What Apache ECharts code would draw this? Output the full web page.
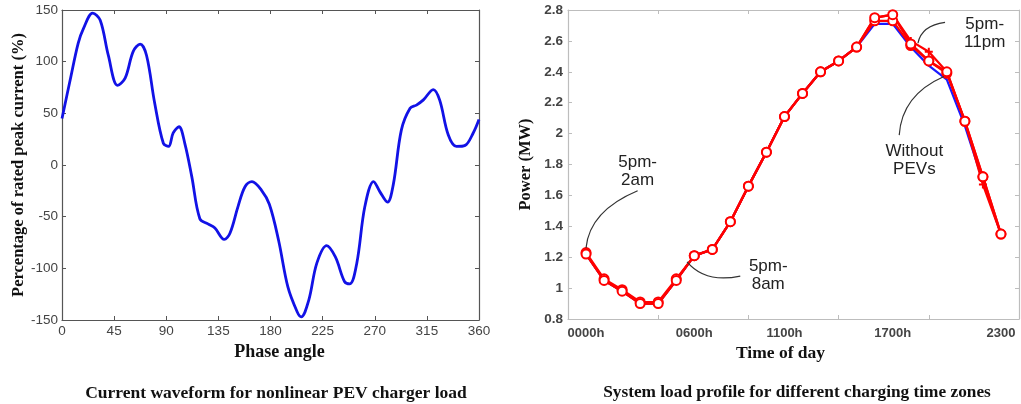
<!DOCTYPE html>
<html><head><meta charset="utf-8">
<script src="https://cdn.jsdelivr.net/npm/echarts@6/dist/echarts.min.js"></script>
<style>html,body{margin:0;padding:0;background:#fff}#c{width:1021px;height:404px}</style>
</head><body><div id="c"></div>
<script>
// ---- Left chart: current waveform ----
const phaseDeg = [0, 7, 14, 18.5, 26.5, 33, 40, 48, 54.5, 61.5, 67.5, 73, 80, 87.5, 92, 96, 101, 106, 112, 119, 126, 132, 140, 145, 152, 158, 164, 172, 179, 187, 195, 203, 206.5, 213, 220, 228.5, 236, 244, 248.5, 254.5, 261.5, 269, 274.5, 281, 286, 293, 300.5, 306, 312, 320.5, 326, 333.5, 340.5, 348, 355, 360];
const currentPct = [45, 82, 118, 132, 147, 140, 106, 77, 84, 110, 117, 106, 60, 21, 18, 31, 37, 21, -11, -52, -57, -61, -72, -66, -40, -21, -16, -24, -38, -73, -118, -142, -147, -131, -95, -78, -89, -113, -115, -95, -40, -16, -26, -36, -19, 34, 55, 58, 63, 73, 63, 29, 18, 19, 31, 44];

// ---- Right chart: system load profile ----
const hours = [0,1,2,3,4,5,6,7,8,9,10,11,12,13,14,15,16,17,18,19,20,21,22,23];
const withoutPEVs = [1.22,1.05,0.98,0.90,0.90,1.05,1.21,1.25,1.43,1.66,1.88,2.11,2.26,2.40,2.47,2.56,2.71,2.71,2.56,2.44,2.35,2.05,1.69,1.35];
const pm5to2am  = [1.23,1.06,0.99,0.91,0.91,1.06,1.21,1.25,1.43,1.66,1.88,2.11,2.26,2.40,2.47,2.56,2.73,2.73,2.57,2.47,2.39,2.08,1.72,1.35];
const pm5to8am  = [1.22,1.05,0.98,0.90,0.90,1.05,1.21,1.25,1.43,1.66,1.88,2.11,2.26,2.40,2.47,2.56,2.75,2.77,2.58,2.47,2.40,2.08,1.72,1.35];
const pm5to11pm = [1.22,1.05,0.98,0.90,0.90,1.05,1.21,1.25,1.43,1.66,1.88,2.11,2.26,2.40,2.47,2.56,2.75,2.77,2.60,2.53,2.40,2.08,1.67,1.35];
const hourTickValues = [-1,4,9,14,19,24];
const hourLabelValues = [0,6,11,17,23];
const hourLabelTexts = ['0000h','0600h','1100h','1700h','2300'];

// annotations in data units (hour, MW)
const annotations = [
  {text:'5pm-\n2am', at:[2.86,1.755], line:[[2.86,1.63],[0.2,1.50],[0.0,1.26]]},
  {text:'5pm-\n8am', at:[10.1,1.08], line:[[5.6,1.17],[6.6,1.03],[8.55,1.078]]},
  {text:'5pm-\n11pm', at:[22.1,2.65], line:[[19.9,2.72],[18.6,2.70],[18.4,2.586]]},
  {text:'Without\nPEVs', at:[18.2,1.83], line:[[17.36,1.99],[17.5,2.25],[19.84,2.37]]}
];

const sans = '"Liberation Sans", Arial, sans-serif';
const serif = '"Liberation Serif", "Times New Roman", serif';
const pair = (xs, ys) => xs.map((x, i) => [x, ys[i]]);

const leftAxisLine = {onZero:false, lineStyle:{color:'#555', width:1.2}};
const rightAxisLine = {onZero:false, lineStyle:{color:'#bdbdbd', width:1.2}};

const chart = echarts.init(document.getElementById('c'));
chart.setOption({
  animation:false,
  backgroundColor:'#fff',
  title:[
    {text:'Current waveform for nonlinear PEV charger load', left:271, top:379, textAlign:'center',
     textStyle:{fontFamily:serif, fontWeight:'bold', fontSize:17.5, color:'#111'}},
    {text:'System load profile for different charging time zones', left:792, top:379, textAlign:'center',
     textStyle:{fontFamily:serif, fontWeight:'bold', fontSize:17.3, color:'#111'}}
  ],
  grid:[
    {left:62, top:10, width:417, height:310},
    {left:568, top:10, width:451, height:309}
  ],
  xAxis:[
    {gridIndex:0, type:'value', min:0, max:360, interval:45, position:'bottom',
     name:'Phase angle', nameLocation:'middle', nameGap:22,
     nameTextStyle:{fontFamily:serif, fontWeight:'bold', fontSize:18, color:'#111', padding:[0,0,0,18]},
     axisLine:leftAxisLine, axisTick:{inside:true, length:4, lineStyle:{color:'#555'}},
     axisLabel:{fontFamily:sans, fontSize:13.5, color:'#444', margin:4}, splitLine:{show:false}},
    {gridIndex:0, type:'value', min:0, max:360, interval:45, position:'top',
     axisLine:leftAxisLine, axisTick:{inside:true, length:4, lineStyle:{color:'#555'}},
     axisLabel:{show:false}, splitLine:{show:false}},
    {gridIndex:1, type:'value', min:-1, max:24, position:'bottom',
     name:'Time of day', nameLocation:'middle', nameGap:25,
     nameTextStyle:{fontFamily:serif, fontWeight:'bold', fontSize:17.5, color:'#111', padding:[0,26,0,0]},
     axisLine:rightAxisLine,
     axisTick:{inside:true, length:4, customValues:hourTickValues, lineStyle:{color:'#bdbdbd'}},
     axisLabel:{customValues:hourLabelValues, fontFamily:sans, fontSize:13, fontWeight:'bold', color:'#444', margin:8,
       formatter:v => hourLabelTexts[hourLabelValues.indexOf(v)] || ''},
     splitLine:{show:false}},
    {gridIndex:1, type:'value', min:-1, max:24, position:'top',
     axisLine:rightAxisLine,
     axisTick:{inside:true, length:4, customValues:hourTickValues, lineStyle:{color:'#bdbdbd'}},
     axisLabel:{show:false}, splitLine:{show:false}}
  ],
  yAxis:[
    {gridIndex:0, type:'value', min:-150, max:150, interval:50, position:'left',
     name:'Percentage of rated peak current (%)', nameLocation:'middle', nameGap:34,
     nameTextStyle:{fontFamily:serif, fontWeight:'bold', fontSize:16.5, color:'#111'},
     axisLine:leftAxisLine, axisTick:{inside:true, length:4, lineStyle:{color:'#555'}},
     axisLabel:{fontFamily:sans, fontSize:13.5, color:'#444', margin:4}, splitLine:{show:false}},
    {gridIndex:0, type:'value', min:-150, max:150, interval:50, position:'right',
     axisLine:leftAxisLine, axisTick:{inside:true, length:4, lineStyle:{color:'#555'}},
     axisLabel:{show:false}, splitLine:{show:false}},
    {gridIndex:1, type:'value', min:0.8, max:2.8, interval:0.2, position:'left',
     name:'Power (MW)', nameLocation:'middle', nameGap:34,
     nameTextStyle:{fontFamily:serif, fontWeight:'bold', fontSize:16.5, color:'#111'},
     axisLine:rightAxisLine, axisTick:{inside:true, length:4, lineStyle:{color:'#bdbdbd'}},
     axisLabel:{fontFamily:sans, fontSize:13.5, fontWeight:'bold', color:'#444', margin:5}, splitLine:{show:false}},
    {gridIndex:1, type:'value', min:0.8, max:2.8, interval:0.2, position:'right',
     axisLine:rightAxisLine, axisTick:{inside:true, length:4, lineStyle:{color:'#bdbdbd'}},
     axisLabel:{show:false}, splitLine:{show:false}}
  ],
  series:[
    {name:'Current', type:'line', xAxisIndex:0, yAxisIndex:0, data:pair(phaseDeg, currentPct),
     smooth:0.35, showSymbol:false, lineStyle:{color:'#1212e6', width:2.8}},
    {name:'Without PEVs', type:'line', xAxisIndex:2, yAxisIndex:2, data:pair(hours, withoutPEVs),
     showSymbol:false, lineStyle:{color:'#1a1aff', width:2.2}},
    {name:'5pm-2am', type:'line', xAxisIndex:2, yAxisIndex:2, data:pair(hours, pm5to2am),
     symbol:'emptyCircle', symbolSize:9, lineStyle:{color:'#ff0000', width:2.2},
     itemStyle:{color:'#ff0000', borderColor:'#ff0000', borderWidth:1.6}},
    {name:'5pm-11pm', type:'line', xAxisIndex:2, yAxisIndex:2, data:pair(hours, pm5to11pm),
     symbol:'path://M3,0h2v3h3v2h-3v3h-2v-3h-3v-2h3z', symbolSize:8, lineStyle:{color:'#ff0000', width:2.2},
     itemStyle:{color:'#ff0000'}},
    {name:'5pm-8am', type:'line', xAxisIndex:2, yAxisIndex:2, data:pair(hours, pm5to8am),
     symbol:'emptyCircle', symbolSize:9, lineStyle:{color:'#ff0000', width:2.4},
     itemStyle:{color:'#ff0000', borderColor:'#ff0000', borderWidth:1.6}}
  ]
});

const toPx = p => chart.convertToPixel({xAxisIndex:2, yAxisIndex:2}, p);
const graphics = [];
annotations.forEach(a => {
  const [s, c, e] = a.line.map(toPx);
  graphics.push({type:'bezierCurve', silent:true, z:10,
    shape:{x1:s[0], y1:s[1], cpx1:c[0], cpy1:c[1], x2:e[0], y2:e[1]},
    style:{stroke:'#333', lineWidth:1.2, fill:null}});
  const t = toPx(a.at);
  graphics.push({type:'text', silent:true, z:10, x:t[0], y:t[1],
    style:{text:a.text, align:'center', verticalAlign:'middle', fontFamily:sans, fontSize:17, lineHeight:18, fill:'#222'}});
});
chart.setOption({graphic:graphics});
</script></body></html>
